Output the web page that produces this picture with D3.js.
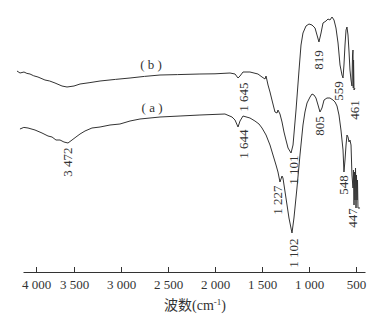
<!DOCTYPE html>
<html>
<head>
<meta charset="utf-8">
<script src="https://cdn.jsdelivr.net/npm/d3@7"></script>
<style>
  body { margin: 0; background: #fff; }
  svg { display: block; }
</style>
</head>
<body>
<svg id="chart" width="377" height="327"></svg>
<script>
// ========= Data ========= //
const wavenumbersB = [4250, 4210, 4158, 4120, 4079, 4030, 3974, 3882, 3820, 3750, 3658, 3592, 3500, 3436, 3330, 3223, 3060, 2904, 2750, 2585, 2400, 2160, 2000, 1840, 1787, 1755, 1734, 1702, 1628, 1543, 1500, 1468, 1457, 1436, 1415, 1394, 1362, 1340, 1330, 1309, 1287, 1266, 1245, 1223, 1191, 1170, 1138, 1106, 1085, 1064, 1032, 1000, 968, 936, 915, 894, 872, 851, 819, 798, 777, 755, 734, 713, 691, 670, 649, 638, 628, 617, 606, 596, 585, 574, 564, 553, 543, 537, 532, 529, 526, 521, 511];
const transB = [87, 86, 86.5, 85.8, 85.5, 84.6, 84, 82.5, 82, 81, 79.5, 79, 79.5, 80.5, 81.2, 82, 82.8, 83.5, 84.3, 85, 85.2, 85.5, 85.6, 86, 85.5, 83.5, 84.5, 86.5, 86.5, 85.5, 84, 83, 84.5, 80, 76.5, 72.5, 66.5, 66, 67.5, 65.5, 61.5, 56.5, 52.5, 48.5, 46, 50, 67.5, 87.5, 100, 106, 109.5, 110.5, 110, 108.5, 105, 101.5, 106, 111, 112, 113, 112.5, 114, 112.5, 108.5, 101, 90, 85, 83.5, 90, 100, 107.5, 109, 105, 96.5, 87.5, 82.5, 79.5, 95, 97.5, 78.5, 92.5, 77.5, 78.5];

const wavenumbersA = [4211, 4160, 4105, 4013, 3921, 3842, 3789, 3737, 3684, 3632, 3579, 3526, 3479, 3436, 3383, 3309, 3223, 3117, 3011, 2904, 2798, 2585, 2372, 2160, 1894, 1819, 1787, 1755, 1734, 1702, 1628, 1575, 1532, 1500, 1457, 1415, 1383, 1351, 1330, 1309, 1287, 1277, 1245, 1213, 1181, 1160, 1128, 1096, 1064, 1043, 1021, 989, 968, 947, 926, 904, 883, 862, 840, 809, 777, 745, 723, 702, 681, 660, 638, 628, 617, 606, 596, 585, 574, 564, 553, 543, 532, 527, 521, 516, 511, 505, 500, 495, 489, 484, 479, 457];
const transA = [58, 58.8, 58.5, 57.5, 56, 54.5, 54, 52.5, 52.5, 51.5, 51, 52.5, 54, 55.5, 57, 58.5, 59, 60, 60.5, 62, 63, 64, 64.5, 65, 65.5, 64, 62.5, 59, 62, 64.5, 63.5, 62, 60.5, 58.5, 55, 50, 45, 40, 36.5, 31.5, 34.5, 33.5, 23.5, 13.5, 6, 13.5, 28.5, 45, 60, 66.5, 71, 74, 75.5, 75, 73.5, 70, 66.5, 68.5, 72.5, 73.5, 73.5, 72.5, 71.5, 69.5, 65, 57.5, 47.5, 36.5, 42.5, 50, 55, 54, 51.5, 52.5, 50, 35, 28.5, 37.5, 20, 36.5, 22.5, 38.5, 18.5, 35, 22.5, 32.5, 18.5, 18.5];

const tickValues = [4000, 3500, 3000, 2500, 2000, 1500, 1000, 500];
const tickLabels = ['4 000', '3 500', '3 000', '2 500', '2 000', '1 500', '1 000', '500'];

// peak labels: text, wavenumber and transmittance where the label sits
const peakLabels = ['3 472', '1 644', '1 645', '1 227', '1 101', '1 102', '805', '819', '559', '461', '548', '447'];
const peakWn = [3579, 1692, 1692, 1330, 1160, 1170, 883, 894, 681, 511, 638, 532];
const peakT = [41.5, 50.5, 74, 22.5, 37.5, -4, 59.5, 92.5, 77, 67.5, 30, 13.5];

const seriesNames = ['( b )', '( a )'];
const seriesWn = [2681, 2670];
const seriesT = [90.5, 69];

// ========= Scales ========= //
const svg = d3.select('#chart');
const ink = '#333';
const font = "'Liberation Serif', 'Times New Roman', Times, serif";

// the printed axis is squeezed between 4000 and 3500
const x = d3.scaleLinear()
  .domain([4171, 4000, 3500, 500, 404])
  .range([23, 36, 74, 356, 365]);

const y = d3.scaleLinear()
  .domain([0, 120])
  .range([245, 5]);

// ========= Axis ========= //
const axis = d3.axisBottom(x)
  .tickValues(tickValues)
  .tickFormat((d, i) => tickLabels[i])
  .tickSizeInner(-5)
  .tickSizeOuter(0)
  .tickPadding(8);

const gAxis = svg.append('g')
  .attr('transform', 'translate(0,272)')
  .call(axis);

gAxis.attr('font-family', font).attr('font-size', 13);
gAxis.select('.domain').attr('stroke', ink).attr('stroke-width', 1);
gAxis.selectAll('.tick line').attr('stroke', ink);
gAxis.selectAll('.tick text')
  .attr('fill', ink)
  .style('font-family', font)
  .style('font-size', '13px');

const title = svg.append('text')
  .attr('x', 195)
  .attr('y', 310)
  .attr('text-anchor', 'middle')
  .attr('fill', ink)
  .style('font-family', "'Liberation Serif', 'Noto Sans CJK SC', serif")
  .style('font-size', '14px');
title.append('tspan').text('波数(cm');
title.append('tspan').style('font-size', '9px').attr('dy', -5).text('-1');
title.append('tspan').attr('dy', 5).text(')');

// ========= Spectra ========= //
const line = d3.line()
  .x(d => x(d[0]))
  .y(d => y(d[1]));

const spectra = [
  d3.zip(wavenumbersB, transB),
  d3.zip(wavenumbersA, transA)
];

svg.append('g')
  .selectAll('path')
  .data(spectra)
  .join('path')
    .attr('d', line)
    .attr('fill', 'none')
    .attr('stroke', ink)
    .attr('stroke-width', 1)
    .attr('stroke-linejoin', 'round');

// ========= Labels ========= //
svg.append('g')
  .selectAll('text')
  .data(d3.range(seriesNames.length))
  .join('text')
    .attr('x', i => x(seriesWn[i]))
    .attr('y', i => y(seriesT[i]))
    .attr('text-anchor', 'middle')
    .attr('dominant-baseline', 'central')
    .attr('fill', ink)
    .style('font-family', font)
    .style('font-size', '13px')
    .text(i => seriesNames[i]);

svg.append('g')
  .selectAll('text')
  .data(d3.range(peakLabels.length))
  .join('text')
    .attr('transform', i => `translate(${x(peakWn[i])},${y(peakT[i])}) rotate(-90)`)
    .attr('text-anchor', 'middle')
    .attr('dominant-baseline', 'central')
    .attr('fill', ink)
    .style('font-family', font)
    .style('font-size', '13px')
    .text(i => peakLabels[i]);
</script>
</body>
</html>
